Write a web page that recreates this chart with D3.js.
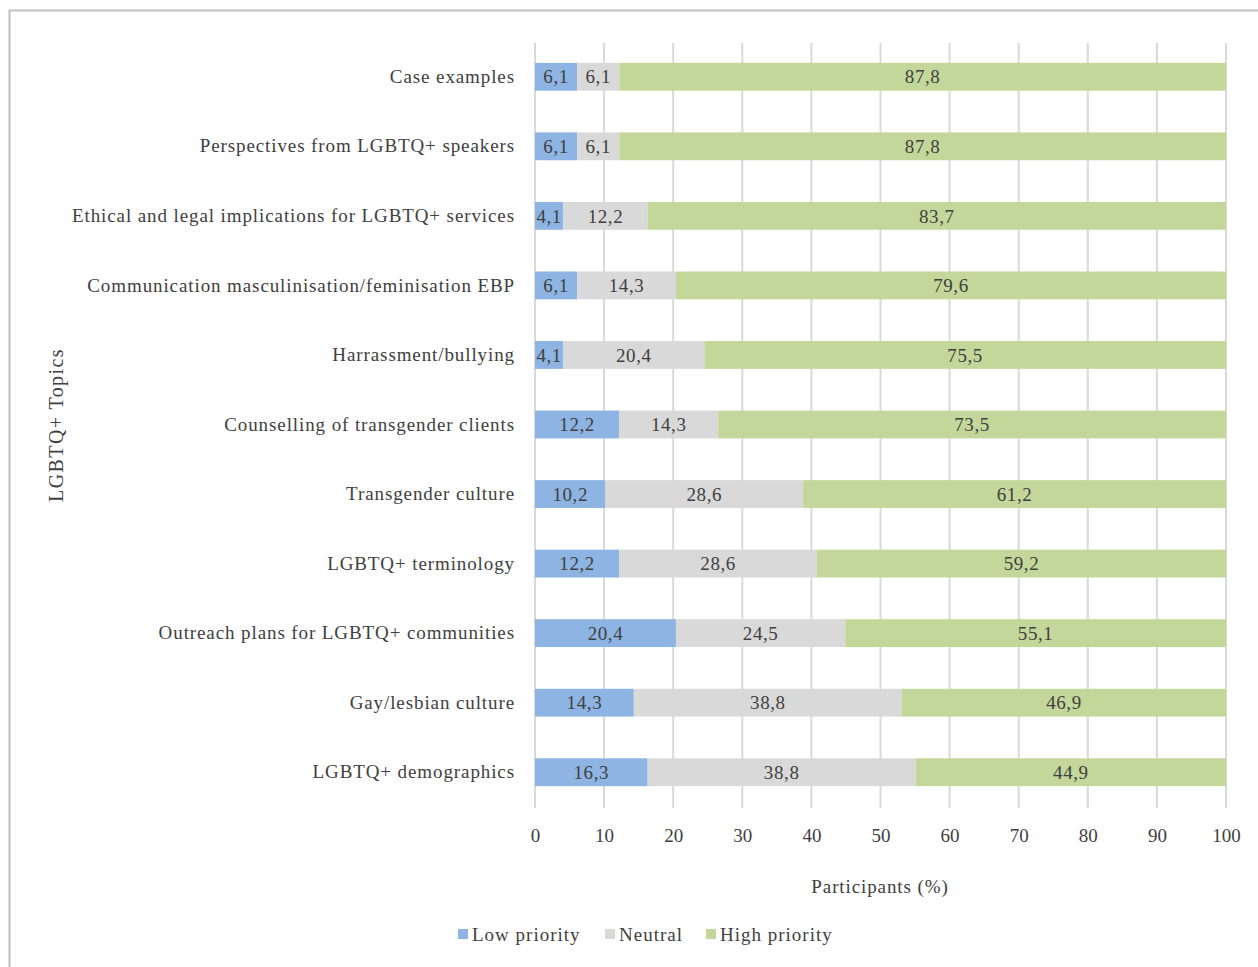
<!DOCTYPE html>
<html>
<head>
<meta charset="utf-8">
<script src="https://cdn.jsdelivr.net/npm/d3@7"></script>
<style>
  html, body { margin: 0; padding: 0; background: #fff; }
  svg { display: block; }
  text { font-family: "Liberation Serif", "DejaVu Serif", serif; fill: #404040; }
</style>
</head>
<body>
<svg id="chart" width="1258" height="967"></svg>
<script>
// Topics, top to bottom
const topics = [
  "Case examples",
  "Perspectives from LGBTQ+ speakers",
  "Ethical and legal implications for LGBTQ+ services",
  "Communication masculinisation/feminisation EBP",
  "Harrassment/bullying",
  "Counselling of transgender clients",
  "Transgender culture",
  "LGBTQ+ terminology",
  "Outreach plans for LGBTQ+ communities",
  "Gay/lesbian culture",
  "LGBTQ+ demographics"
];
const lowPriority  = [6.1, 6.1, 4.1, 6.1, 4.1, 12.2, 10.2, 12.2, 20.4, 14.3, 16.3];
const neutral      = [6.1, 6.1, 12.2, 14.3, 20.4, 14.3, 28.6, 28.6, 24.5, 38.8, 38.8];
const highPriority = [87.8, 87.8, 83.7, 79.6, 75.5, 73.5, 61.2, 59.2, 55.1, 46.9, 44.9];

const seriesNames  = ["Low priority", "Neutral", "High priority"];
const seriesColors = ["#8DB4E2", "#D9D9D9", "#C4D79B"];
const xTicks = [0, 10, 20, 30, 40, 50, 60, 70, 80, 90, 100];

const rows = topics.map((t, i) => ({
  topic: t,
  "Low priority": lowPriority[i],
  "Neutral": neutral[i],
  "High priority": highPriority[i]
}));

const svg = d3.select("#chart");

// outer frame
svg.append("rect")
  .attr("x", 9.5).attr("y", 10.5)
  .attr("width", 1270).attr("height", 990)
  .attr("fill", "none").attr("stroke", "#BFBFBF").attr("stroke-width", 2);

const plot = { left: 535, right: 1226, top: 43, bottom: 808 };

const x = d3.scaleLinear().domain([0, 100]).range([plot.left, plot.right]);
const y = d3.scaleBand().domain(topics).range([plot.top, plot.bottom]).paddingInner(0.6).paddingOuter(0.3);

// vertical gridlines
svg.append("g").selectAll("line").data(xTicks).join("line")
  .attr("x1", d => x(d)).attr("x2", d => x(d))
  .attr("y1", plot.top).attr("y2", plot.bottom)
  .attr("stroke", "#D9D9D9").attr("stroke-width", 2);

// stacked bars
const stacked = d3.stack().keys(seriesNames)(rows);
const color = d3.scaleOrdinal().domain(seriesNames).range(seriesColors);

const layers = svg.append("g").selectAll("g").data(stacked).join("g")
  .attr("fill", d => color(d.key));

layers.selectAll("rect").data(d => d).join("rect")
  .attr("x", d => x(d[0]))
  .attr("y", d => y(d.data.topic) - 1)
  .attr("width", d => x(d[1]) - x(d[0]))
  .attr("height", y.bandwidth());

// value labels
const fmt = v => v.toFixed(1).replace(".", ",");
const labels = svg.append("g");
stacked.forEach(layer => {
  labels.selectAll(null).data(layer).join("text")
    .attr("x", d => (x(d[0]) + x(d[1])) / 2)
    .attr("y", d => y(d.data.topic) - 1 + y.bandwidth() / 2)
    .attr("dy", "0.35em")
    .attr("text-anchor", "middle")
    .attr("font-size", 19)
    .attr("letter-spacing", 0.6)
    .text(d => fmt(d[1] - d[0]));
});

// category labels
const yAxis = d3.axisLeft(y).tickSize(0).tickPadding(20);
const yg = svg.append("g").attr("transform", `translate(${plot.left},-1)`).call(yAxis);
yg.select(".domain").remove();
yg.selectAll("text").attr("font-size", 19).attr("fill", "#404040")
  .attr("letter-spacing", 0.9)
  .style("font-family", '"Liberation Serif", serif');

// x tick labels
const xAxis = d3.axisBottom(x).tickValues(xTicks).tickSize(0).tickPadding(21);
const xg = svg.append("g").attr("transform", `translate(0,${plot.bottom})`).call(xAxis);
xg.select(".domain").remove();
xg.selectAll("text").attr("font-size", 19).attr("fill", "#404040")
  .style("font-family", '"Liberation Serif", serif');

// axis titles
svg.append("text")
  .attr("x", 880).attr("y", 893)
  .attr("text-anchor", "middle").attr("font-size", 19)
  .attr("letter-spacing", 0.9)
  .text("Participants (%)");

svg.append("text")
  .attr("transform", "translate(63,425) rotate(-90)")
  .attr("text-anchor", "middle").attr("font-size", 20)
  .attr("letter-spacing", 1.4)
  .text("LGBTQ+ Topics");

// legend
const legendX = [458, 605, 706];
const legend = svg.append("g").selectAll("g").data(seriesNames).join("g")
  .attr("transform", (d, i) => `translate(${legendX[i]},934)`);
legend.append("rect")
  .attr("x", 0).attr("y", -5).attr("width", 10).attr("height", 10)
  .attr("fill", d => color(d));
legend.append("text")
  .attr("x", 14).attr("dy", "0.35em").attr("font-size", 19)
  .attr("letter-spacing", 1)
  .text(d => d);
</script>
</body>
</html>
